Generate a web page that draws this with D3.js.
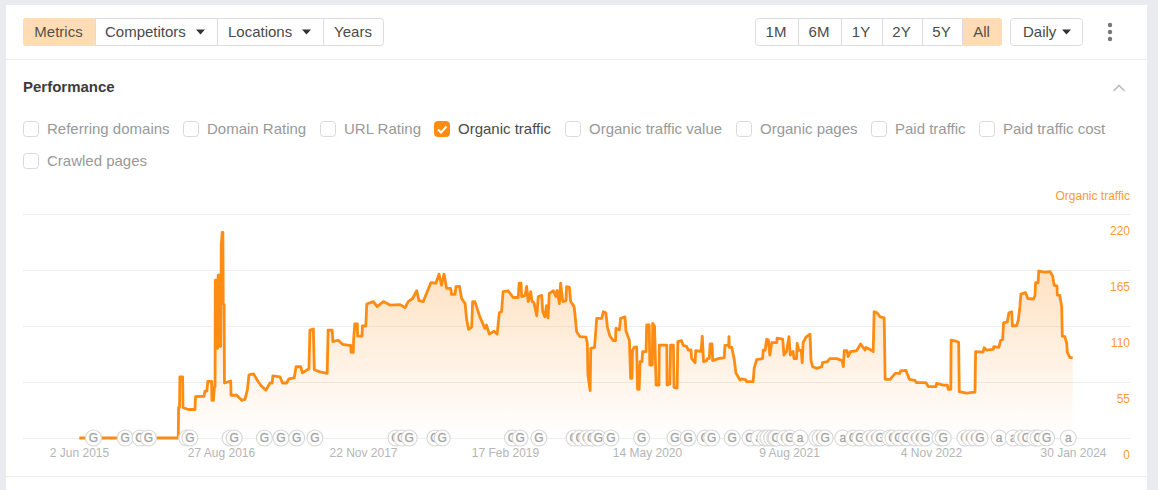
<!DOCTYPE html>
<html><head><meta charset="utf-8">
<script src="https://cdn.jsdelivr.net/npm/d3@7/dist/d3.min.js"></script>
<style>
html,body{margin:0;padding:0;background:#e9ebee;overflow:hidden}
svg{display:block;font-family:"Liberation Sans",Arial,sans-serif}
</style></head><body><svg id="c" width="1158" height="490"></svg>
<script>
const startDate = new Date(2015, 5, 2);
const tickDates = ["2015-06-02","2016-08-27","2017-11-22","2019-02-17","2020-05-14","2021-08-09","2022-11-04","2024-01-30"];
const yTicks = [0, 55, 110, 165, 220];
const leftTabs = ["Metrics", "Competitors ", "Locations ", "Years"];
const rangeTabs = ["1M", "6M", "1Y", "2Y", "5Y", "All"];
const metricNames = ["Referring domains","Domain Rating","URL Rating","Organic traffic","Organic traffic value","Organic pages","Paid traffic","Paid traffic cost","Crawled pages"];

// days since 2 Jun 2015
const trafficDays = [1,316,317,320,321,330,331,347,369,371,398,401,407,410,422,423,428,431,433,434,437,438,441,443,447,449,451,453,456,458,459,462,463,483,484,502,518,528,536,541,555,571,581,595,608,615,617,640,648,661,668,685,691,706,711,732,735,746,749,767,790,793,806,808,825,839,860,865,866,873,874,878,886,887,901,902,913,916,937,949,969,990,1022,1038,1048,1062,1075,1082,1096,1107,1120,1136,1146,1154,1162,1170,1183,1186,1197,1200,1211,1218,1229,1234,1240,1250,1253,1260,1276,1292,1297,1306,1321,1331,1338,1345,1350,1366,1382,1398,1401,1407,1409,1420,1425,1430,1438,1442,1448,1457,1462,1473,1476,1483,1488,1493,1497,1510,1518,1522,1529,1533,1540,1550,1552,1561,1565,1576,1580,1584,1595,1614,1618,1620,1627,1629,1641,1648,1664,1669,1677,1682,1690,1701,1708,1709,1720,1724,1738,1741,1752,1756,1760,1762,1767,1775,1778,1783,1786,1792,1794,1805,1807,1815,1817,1825,1826,1832,1837,1846,1847,1871,1872,1881,1883,1892,1894,1904,1906,1918,1923,1934,1939,1948,1950,1961,1963,1980,1984,1988,1998,2000,2006,2009,2015,2017,2035,2054,2056,2068,2069,2070,2078,2086,2091,2104,2109,2123,2125,2146,2149,2157,2176,2178,2184,2189,2194,2199,2205,2221,2222,2240,2244,2252,2260,2264,2273,2276,2284,2286,2291,2299,2302,2305,2314,2327,2330,2335,2348,2364,2367,2382,2390,2412,2429,2433,2436,2445,2448,2456,2475,2488,2502,2505,2518,2528,2531,2540,2550,2563,2566,2582,2598,2613,2615,2632,2643,2661,2666,2696,2704,2728,2730,2751,2764,2767,2775,2776,2788,2800,2802,2825,2852,2854,2878,2881,2889,2910,2912,2928,2934,2940,2943,2955,2960,2969,2971,2985,2990,2995,2998,3013,3020,3038,3043,3045,3053,3055,3075,3091,3099,3104,3113,3114,3122,3128,3130,3138,3144,3146,3154,3163];
const organicTraffic = [0,0,30,30,60,60,30,28,28,40.6,41,46,46,55.7,55.7,37,37,50,50,155,155,88,88,160,160,90,90,190,202,202,132,131,54,56,42,42,37,38,47,62,63,55,51,47,54,54,61,60,54,54,58,59,70,70,64,68,106,107,67,65,63.5,106,106,94.6,96,92,91,91,84,84,96,112,112,100,100,110,110,131.6,134,129,134,130.6,131,128,134,137,144.6,135,134,142.7,152.5,152,161,150,161,147,147,141,141,148.6,149,137,132,116,106.7,109,134,134,119,107.7,111,102,105,102,123,124,143.7,144.6,138,138,152,152,138.8,140,149,134,143.7,134,133,120,139,140,124,119,130,118,142,144.6,139,145,132,152,134,135,148.6,148,134,129,117.5,104.4,99.5,99,93,62,46.5,88,89,117.5,117.5,124,123,109,100,95.6,95.6,107.7,106,117.5,119,105,96,58.6,58.6,86,89,89.5,47.8,47.8,75,75,84.8,84.8,111,111,71.7,71.7,112.6,110,52,52,91.3,91.3,52,53,91.3,91.3,49.8,49,94.6,95.6,91,90,86.4,86.5,78,74,85.7,85,100,75,76,78,78,92.3,92.3,76,78,79,91,91,99.5,89,89,76.6,64,57,58,57,55.3,55.3,68.4,77,78,86.4,86.4,97,96.5,81.5,93.6,93.6,98,97,81.5,85,99.5,81.5,85,78,78,93,86,86,74,93.6,99,102,76.6,70,68.4,70,74,75,78,78,76,70,85.7,85.7,80,84.8,85.7,92.3,86.4,89,87,84.8,124,123,119,118,57.6,57.6,63.5,63.5,66,66.5,57.6,56.5,54.3,54.3,50.4,50.4,53.7,52,52,47.8,47.8,96,95.5,94,45.5,44,45,84.8,84.4,88.7,86.4,87,89.7,89,96,96.5,113,114,123,124,110,110.5,116,129,141.4,142.7,137,136.5,140,152.5,152.5,164,163,163.5,159,150,149.5,140.4,140,129,100,99.5,93,84,79,79];

const updateDays = [46,147,194,221,343,353,481,494,590,643,693,751,1009,1027,1051,1133,1156,1380,1404,1464,1576,1595,1616,1632,1653,1693,1791,1897,1939,1993,2014,2079,2136,2164,2184,2193,2205,2215,2219,2247,2263,2295,2348,2359,2375,2431,2465,2486,2518,2534,2550,2581,2591,2610,2634,2661,2677,2695,2741,2751,2820,2836,2852,2868,2929,2974,3001,3016,3043,3053,3080,3149];
const ahrefsUpdateDays = [2164,2295,2431,2929,2974,3149];

const dayToDate = d => d3.timeDay.offset(startDate, d);
const parse = d3.timeParse("%Y-%m-%d");
const fmt = d3.timeFormat("%-d %b %Y");

const svg = d3.select("#c");
const ORANGE = "#ff8c12", ACTIVE = "#ffdcb3", BORDER = "#dcdde0";

// card
svg.append("rect").attr("x",6).attr("y",5).attr("width",1141).attr("height",485).attr("fill","#fff");
[59,476].forEach(y=>svg.append("line").attr("x1",6).attr("x2",1147).attr("y1",y+.5).attr("y2",y+.5).attr("stroke","#ebecee"));

// button groups
function group(labels, edges, activeIdx, arrows){
  const g = svg.append("g");
  const x0=edges[0], x1=edges[edges.length-1];
  g.append("rect").attr("x",x0+.5).attr("y",18.5).attr("width",x1-x0-1).attr("height",27).attr("rx",3).attr("fill","#fff").attr("stroke",BORDER);
  labels.forEach((t,i)=>{
    const a=edges[i], b=edges[i+1];
    if(i===activeIdx) g.append("rect").attr("x",a+.5).attr("y",18.5).attr("width",b-a-1).attr("height",27).attr("rx",2).attr("fill",ACTIVE).attr("stroke",ACTIVE);
    if(i>0) g.append("line").attr("x1",a+.5).attr("x2",a+.5).attr("y1",19).attr("y2",45).attr("stroke",BORDER);
    const arrow=arrows&&arrows[i];
    const tx=arrow?a+(b-a>110?10:b-a>80?11:13):(a+b)/2-.5;
    g.append("text").attr("x",tx).attr("y",37).attr("text-anchor",arrow?"start":"middle").attr("font-size",15).attr("fill",i===activeIdx?"#55504a":"#4a4a4a").text(t.trim());
    if(arrow) g.append("path").attr("d",`M${b-21} 29.5h9l-4.5 5z`).attr("fill","#333");
  });
}
group(leftTabs,[23,95,217,323,384],0,[0,1,1,0]);
group(rangeTabs,[755,798,841,882,922,962,1002],5);
group(["Daily "],[1010,1083],-1,[1]);
[25,32,39].forEach(y=>svg.append("circle").attr("cx",1110).attr("cy",y).attr("r",2.2).attr("fill","#777"));

svg.append("text").attr("x",23).attr("y",92).attr("font-size",15).attr("font-weight",700).attr("fill","#3c3c3c").text("Performance");
svg.append("path").attr("d","M1113.5 91l5.5-5.5 5.5 5.5").attr("fill","none").attr("stroke","#bcbcbc").attr("stroke-width",1.6);

// checkboxes
const boxX=[23,183,320,434,565,736,871,979,23], boxY=[129,129,129,129,129,129,129,129,161];
metricNames.forEach((n,i)=>{
  const on=n==="Organic traffic", x=boxX[i], y=boxY[i];
  svg.append("rect").attr("x",x+.5).attr("y",y-7.5).attr("width",15).attr("height",15).attr("rx",3).attr("fill",on?ORANGE:"#fff").attr("stroke",on?ORANGE:"#d9dadc");
  if(on) svg.append("path").attr("d",`M${x+4} ${y+.5}l3 3 5.5-6`).attr("fill","none").attr("stroke","#fff").attr("stroke-width",2);
  svg.append("text").attr("x",x+24).attr("y",y+5).attr("font-size",15).attr("fill",on?"#4a4a4a":"#999").text(n);
});

// chart
const x = d3.scaleTime().domain([parse(tickDates[0]),parse(tickDates[7])]).range([79,1073]);
const y = d3.scaleLinear().domain([0,220]).range([438,214]);

const grad = svg.append("defs").append("linearGradient").attr("id","fade").attr("gradientUnits","userSpaceOnUse").attr("x1",0).attr("x2",0).attr("y1",y(220)).attr("y2",y(0));
grad.append("stop").attr("offset",0).attr("stop-color",ORANGE).attr("stop-opacity",.34);
grad.append("stop").attr("offset",1).attr("stop-color",ORANGE).attr("stop-opacity",0);

// gridlines + y tick labels
const yAxis = d3.axisRight(y).tickValues(yTicks).tickSize(0).tickPadding(0);
const yG = svg.append("g").attr("transform","translate(1130,0)").call(yAxis);
yG.select(".domain").remove();
yG.selectAll("text").attr("text-anchor","end").attr("dy",16+4).attr("font-size",12).attr("font-family","Liberation Sans,Arial,sans-serif").attr("fill","#ff9a30");
yG.selectAll(".tick line").attr("x1",-1107).attr("x2",0).attr("stroke","#eeeeee");

svg.append("text").attr("x",1130).attr("y",200).attr("text-anchor","end").attr("font-size",12).attr("fill","#ff9a30").text("Organic traffic");

const pts = trafficDays.map((d,i)=>({date:dayToDate(d),v:organicTraffic[i]}));
const firstOn = pts.findIndex(p=>p.v>0)-1;
svg.append("path").datum(pts.slice(firstOn))
  .attr("d",d3.area().x(d=>x(d.date)).y0(y(0)).y1(d=>y(d.v)))
  .attr("fill","url(#fade)");
svg.append("path").datum(pts)
  .attr("d",d3.line().x(d=>x(d.date)).y(d=>y(d.v)))
  .attr("fill","none").attr("stroke",ORANGE).attr("stroke-width",2.8).attr("stroke-linejoin","round");

// update markers
updateDays.forEach(d=>{
  const g=svg.append("g").attr("transform",`translate(${x(dayToDate(d))},${y(0)})`);
  g.append("circle").attr("r",8).attr("fill","#fff").attr("stroke","#d6d6d6").attr("stroke-width",1.1);
  g.append("text").attr("text-anchor","middle").attr("y",4.2).attr("font-size",12).attr("font-weight",400).attr("stroke","#a8a8a8").attr("stroke-width",.3).attr("fill","#a0a0a0").text(ahrefsUpdateDays.includes(d)?"a":"G");
});

// x axis labels
const xAxis = d3.axisBottom(x).tickValues(tickDates.map(parse)).tickFormat(fmt).tickSize(0).tickPadding(0);
const xG = svg.append("g").attr("transform","translate(0,448)").call(xAxis);
xG.select(".domain").remove();
xG.selectAll("text").attr("font-size",12).attr("font-family","Liberation Sans,Arial,sans-serif").attr("fill","#b5b5b5");
</script></body></html>
